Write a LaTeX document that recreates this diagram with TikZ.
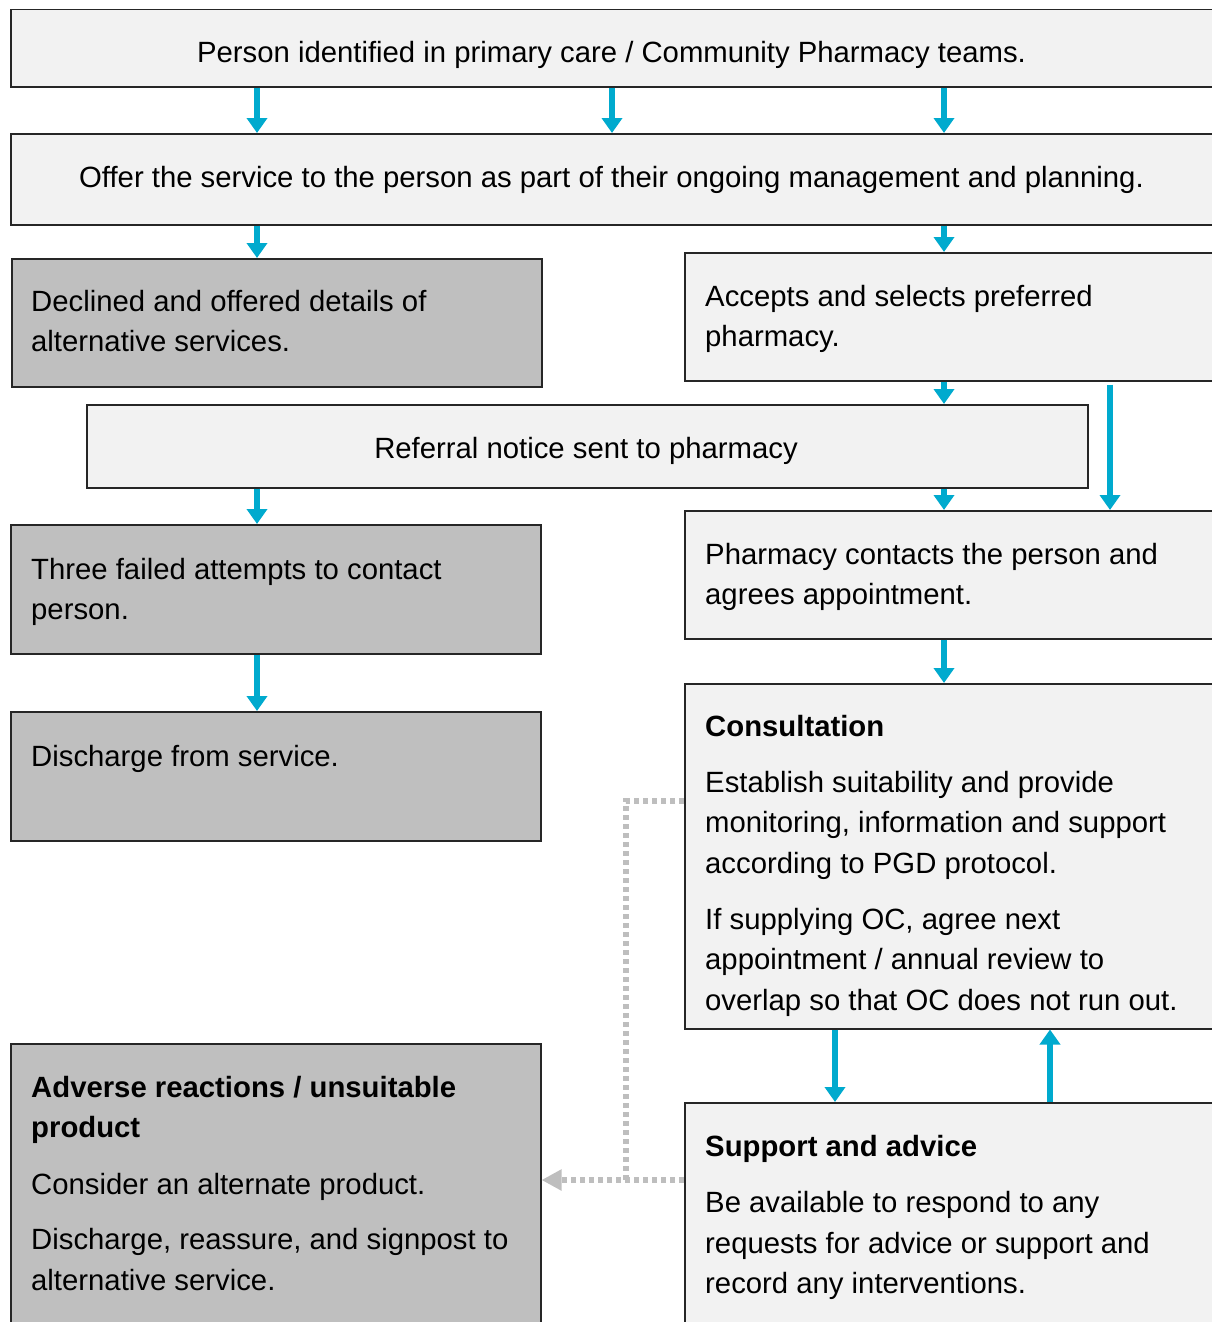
\documentclass[tikz,border=0pt]{standalone}
\usepackage{fontspec}
\setmainfont{Liberation Sans}
\usetikzlibrary{arrows.meta}
\definecolor{flowblue}{RGB}{0,170,206}
\definecolor{boxlight}{RGB}{242,242,242}
\definecolor{boxgrey}{RGB}{191,191,191}
\definecolor{boxline}{RGB}{38,38,38}
\definecolor{dotgrey}{RGB}{190,190,190}
\newcommand{\bodyfont}{\fontsize{29.3}{40.5}\selectfont}
\begin{document}
\begin{tikzpicture}[x=1pt,y=-1pt,line join=miter,
	lightbox/.style={draw=boxline,line width=1.5pt,fill=boxlight,anchor=north west,inner sep=0pt},
	greybox/.style={lightbox,fill=boxgrey},
	txt/.style={inner sep=0pt,anchor=north west,align=left,font=\bodyfont,execute at begin node=\strut},
	ctxt/.style={inner sep=0pt,anchor=base,font=\bodyfont},
	flow/.style={draw=flowblue,line width=6pt,-{Triangle[width=20pt,length=15pt]}},
	dotline/.style={draw=dotgrey,line width=5.5pt,dash pattern=on 5pt off 4pt}]
	\useasboundingbox (0,0) rectangle (1212,1322);
	\clip (0,0) rectangle (1212,1322);
	\coordinate (colL) at (257,0);
	\coordinate (colM) at (612,0);
	\coordinate (colR) at (944,0);
	\coordinate (colRR) at (1110,0);
	\coordinate (colD) at (835,0);
	\coordinate (colU) at (1050,0);
	\coordinate (dotturn) at (626,801);
	\coordinate (dotend) at (626,1180);
	% boxes
	\node[lightbox,minimum width=1204,minimum height=77] (person) at (10,9) {};
	\node[lightbox,minimum width=1204,minimum height=91] (offer) at (10,133) {};
	\node[greybox,minimum width=530,minimum height=128] (declined) at (11,258) {};
	\node[lightbox,minimum width=530,minimum height=128] (accepts) at (684,252) {};
	\node[lightbox,minimum width=1001,minimum height=83] (referral) at (86,404) {};
	\node[greybox,minimum width=530,minimum height=129] (failed) at (10,524) {};
	\node[lightbox,minimum width=530,minimum height=128] (contacts) at (684,510) {};
	\node[greybox,minimum width=530,minimum height=129] (discharge) at (10,711) {};
	\node[lightbox,minimum width=530,minimum height=345] (consult) at (684,683) {};
	\node[lightbox,minimum width=530,minimum height=240] (support) at (684,1102) {};
	\node[greybox,minimum width=530,minimum height=300] (adverse) at (10,1043) {};
	% texts
	\node[ctxt] (person-t) at (611.5,63) {Person identified in primary care / Community Pharmacy teams.};
	\node[ctxt] (offer-t) at (611.5,187) {Offer the service to the person as part of their ongoing management and planning.};
	\node[txt] (declined-t) at (31,289.6) {Declined and offered details of\\alternative services.};
	\node[txt] (accepts-t) at (705,284.6) {Accepts and selects preferred\\pharmacy.};
	\node[ctxt] (referral-t) at (586,458) {Referral notice sent to pharmacy};
	\node[txt] (failed-t) at (31,557.6) {Three failed attempts to contact\\person.};
	\node[txt] (contacts-t) at (705,542.6) {Pharmacy contacts the person and\\agrees appointment.};
	\node[txt] (discharge-t) at (31,737.6) {Discharge from service.};
	\node[txt] (consult-t) at (705,714.6) {\textbf{Consultation}\\[15.5pt]
		Establish suitability and provide\\monitoring, information and support\\according to PGD protocol.\\[15.5pt]
		If supplying OC, agree next\\appointment / annual review to\\overlap so that OC does not run out.};
	\node[txt] (support-t) at (705,1134.6) {\textbf{Support and advice}\\[16pt]
		Be available to respond to any\\requests for advice or support and\\record any interventions.};
	\node[txt] (adverse-t) at (31,1075.6) {\textbf{Adverse reactions / unsuitable}\\\textbf{product}\\[16pt]
		Consider an alternate product.\\[15pt]
		Discharge, reassure, and signpost to\\alternative service.};
	% connectors
	\draw[flow] (person.south -| colL) -- (offer.north -| colL);
	\draw[flow] (person.south -| colM) -- (offer.north -| colM);
	\draw[flow] (person.south -| colR) -- (offer.north -| colR);
	\draw[flow] (offer.south -| colL) -- (declined.north -| colL);
	\draw[flow] (offer.south -| colR) -- (accepts.north -| colR);
	\draw[flow] (accepts.south -| colR) -- (referral.north -| colR);
	\draw[flow] ([yshift=-3pt]accepts.south -| colRR) -- (contacts.north -| colRR);
	\draw[flow] (referral.south -| colL) -- (failed.north -| colL);
	\draw[flow] (referral.south -| colR) -- (contacts.north -| colR);
	\draw[flow] (failed.south -| colL) -- (discharge.north -| colL);
	\draw[flow] (contacts.south -| colR) -- (consult.north -| colR);
	\draw[flow] (consult.south -| colD) -- (support.north -| colD);
	\draw[flow] (support.north -| colU) -- (consult.south -| colU);
	\draw[dotline] (consult.west |- dotturn) -- (dotturn) -- (dotend);
	\draw[dotline,-{Triangle[width=20pt,length=20pt]}] (support.west |- dotend) -- (adverse.east |- dotend);
\end{tikzpicture}
\end{document}
